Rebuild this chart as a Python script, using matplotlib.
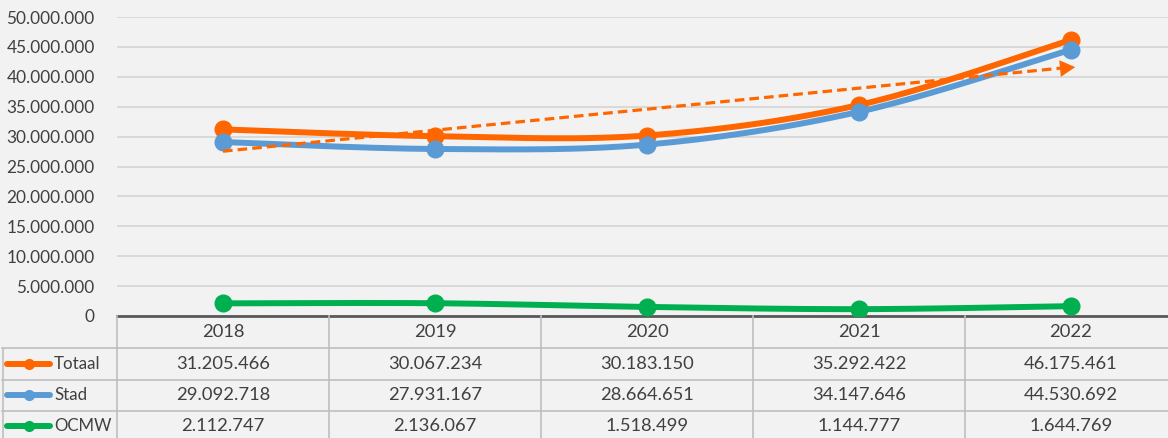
import numpy as np
import matplotlib
matplotlib.use("Agg")
import matplotlib.pyplot as plt
from matplotlib.transforms import blended_transform_factory
from matplotlib.lines import Line2D

years = ["2018", "2019", "2020", "2021", "2022"]
series_names = ["Totaal", "Stad", "OCMW"]
totaal = [31205466, 30067234, 30183150, 35292422, 46175461]
stad = [29092718, 27931167, 28664651, 34147646, 44530692]
ocmw = [2112747, 2136067, 1518499, 1144777, 1644769]
colors = ["#FF6600", "#5B9BD5", "#00B050"]
yticks = list(range(0, 50000001, 5000000))

W, H = 1168, 438
BG = "#F2F2F2"
TXT = "#404040"
FONT = "Lato"
FS_TICK = 12.4
FS_TAB = 13.2
FS_LEG = 12.2

def fmt(v):
    return f"{int(v):,}".replace(",", ".")

def smooth(xs, ys, n=40):
    xs = np.asarray(xs, float); ys = np.asarray(ys, float)
    P = np.column_stack([xs, ys])
    Pe = np.vstack([P[0], P, P[-1]])
    out = []
    for i in range(len(P) - 1):
        p0, p1, p2, p3 = Pe[i], Pe[i + 1], Pe[i + 2], Pe[i + 3]
        c1 = p1 + (p2 - p0) / 6.0
        c2 = p2 - (p3 - p1) / 6.0
        t = np.linspace(0, 1, n)[:, None]
        b = ((1 - t) ** 3) * p1 + 3 * ((1 - t) ** 2) * t * c1 + 3 * (1 - t) * t ** 2 * c2 + t ** 3 * p2
        out.append(b if i == 0 else b[1:])
    b = np.vstack(out)
    return b[:, 0], b[:, 1]

fig = plt.figure(figsize=(W / 100, H / 100), dpi=100, facecolor=BG)
ax = fig.add_axes([117 / W, (H - 316) / H, 1060 / W, 299 / H])
ax.set_facecolor(BG)
x = np.arange(len(years))
ax.set_xlim(-0.5, len(years) - 0.5)
ax.set_ylim(0, 50000000)
ax.set_yticks(yticks)
ax.set_yticklabels([fmt(v) for v in yticks], fontsize=FS_TICK, color=TXT, family=FONT)
ax.tick_params(axis="y", length=0, pad=16)
ax.set_xticks([])
for s in ["top", "right", "left"]:
    ax.spines[s].set_visible(False)
ax.spines["bottom"].set_color("#595959")
ax.spines["bottom"].set_linewidth(2)
ax.grid(axis="y", color="#D4D4D4", linewidth=1.2)
ax.set_axisbelow(True)

data = [totaal, stad, ocmw]
zorders = [3, 4, 5]
for vals, c, z in zip(data, colors, zorders):
    sx, sy = smooth(x, vals)
    ax.plot(sx, sy, color=c, lw=4.3, solid_capstyle="round", zorder=z)
    ax.plot(x, vals, "o", color=c, ms=12, zorder=z)

# linear trendline of Totaal
coef = np.polyfit(x, totaal, 1)
tx = np.array([x[0], x[-1]], float)
ty = np.polyval(coef, tx)
ax.plot(tx, ty, color=colors[0], lw=2.3, ls=(0, (3, 1.6)), zorder=6)
ax.annotate("", xy=(tx[1] + 0.02, ty[1]), xytext=(tx[1] - 0.15, ty[1] - (ty[1] - ty[0]) * 0.04),
            arrowprops=dict(arrowstyle="-|>,head_length=1.1,head_width=0.6", color=colors[0], lw=0, shrinkA=0, shrinkB=0),
            zorder=6)

# data table
tr = blended_transform_factory(ax.transData, fig.transFigure)
def fy(py):
    return (H - py) / H
def fx(px):
    return px / W
grid_c = "#BFBFBF"
row_edges = [316, 348, 379.5, 410.5, 445]
for py in row_edges[1:4]:
    fig.add_artist(Line2D([fx(2), fx(1177)], [fy(py), fy(py)], color=grid_c, lw=1.2))
for i in range(len(years) + 1):
    fig.add_artist(Line2D([i - 0.5, i - 0.5], [fy(316), fy(445)], color=grid_c, lw=1.2, transform=tr))
fig.add_artist(Line2D([fx(2.5), fx(2.5)], [fy(348), fy(445)], color=grid_c, lw=1.2))

centers = [(row_edges[i] + row_edges[i + 1]) / 2 for i in range(4)]
centers[3] = 426
for i, yr in enumerate(years):
    fig.text(i, fy(centers[0]), yr, transform=tr, ha="center", va="center", fontsize=FS_TAB, color=TXT, family=FONT)
for r, (name, vals, c) in enumerate(zip(series_names, data, colors)):
    cy = fy(centers[r + 1])
    fig.add_artist(Line2D([fx(7), fx(50)], [cy, cy], color=c, lw=4.3, solid_capstyle="round"))
    fig.add_artist(Line2D([fx(29)], [cy], color=c, marker="o", ms=7))
    fig.text(fx(54), cy, name, ha="left", va="center", fontsize=FS_LEG, color=TXT, family=FONT)
    for i, v in enumerate(vals):
        fig.text(i, cy, fmt(v), transform=tr, ha="center", va="center", fontsize=FS_TAB, color=TXT, family=FONT)

fig.savefig("out.png", dpi=100, facecolor=BG)
